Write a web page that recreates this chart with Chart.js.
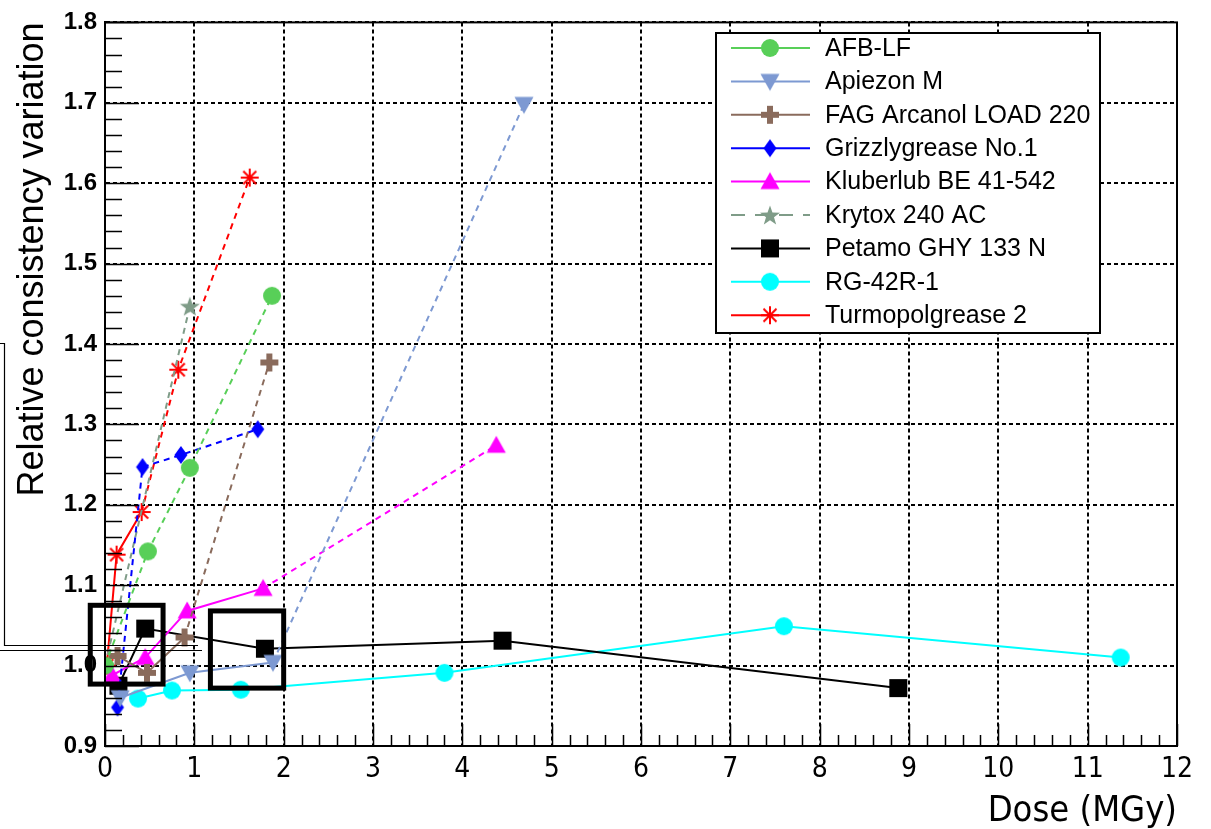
<!DOCTYPE html>
<html><head><meta charset="utf-8">
<script src="https://cdn.jsdelivr.net/npm/chart.js@4/dist/chart.umd.min.js"></script>
<style>html,body{margin:0;padding:0;background:#fff;}#wrap{width:1211px;height:829px;}</style>
</head><body><div id="wrap"><canvas id="c" width="1211" height="829"></canvas></div>
<script>
// ---- data (Dose in MGy, relative consistency variation) ----
const seriesNames = ['AFB-LF','Apiezon M','FAG Arcanol LOAD 220','Grizzlygrease No.1','Kluberlub BE 41-542','Krytox 240 AC','Petamo GHY 133 N','RG-42R-1','Turmopolgrease 2'];
const afbDose = [0, 0.48, 0.95, 1.87];
const afbVal  = [1.0, 1.142, 1.246, 1.460];
const apiezonDose = [0.17, 0.95, 1.88, 4.69];
const apiezonVal  = [0.960, 0.991, 1.004, 1.698];
const fagDose = [0.14, 0.47, 0.89, 1.84];
const fagVal  = [1.012, 0.991, 1.035, 1.377];
const grizzlyDose = [0.14, 0.42, 0.85, 1.71];
const grizzlyVal  = [0.948, 1.247, 1.262, 1.294];
const kluberDose = [0.08, 0.45, 0.92, 1.77, 4.38];
const kluberVal  = [0.988, 1.010, 1.068, 1.096, 1.274];
const krytoxDose = [0, 0.95];
const krytoxVal  = [1.0, 1.447];
const petamoDose = [0.15, 0.45, 1.79, 4.45, 8.88];
const petamoVal  = [0.975, 1.046, 1.021, 1.031, 0.972];
const rgDose = [0.37, 0.75, 1.52, 3.80, 7.60, 11.37];
const rgVal  = [0.959, 0.969, 0.970, 0.991, 1.049, 1.010];
const turmoDose = [0.02, 0.13, 0.41, 0.82, 1.62];
const turmoVal  = [1.0, 1.138, 1.191, 1.368, 1.607];
const xTickLabels = ['0','1','2','3','4','5','6','7','8','9','10','11','12'];

const doses = [afbDose, apiezonDose, fagDose, grizzlyDose, kluberDose, krytoxDose, petamoDose, rgDose, turmoDose];
const vals  = [afbVal, apiezonVal, fagVal, grizzlyVal, kluberVal, krytoxVal, petamoVal, rgVal, turmoVal];

// ---- styles ----
const colors = ['#58cf58','#7d99d2','#8a6b5c','#0000ff','#ff00ff','#7f9c88','#000000','#00ffff','#ff0000'];
const markerTypes = ['circle','triDown','plus','diamond','triUp','star','square','circle','asterisk'];
const dashStart = [0, 2, 2, 0, 3, 0, 99, 99, 2];
const narrow = '"Liberation Sans Narrow", "DejaVu Sans Condensed", "Liberation Sans", Arial';

function makeMarker(type, color){
  const s = 24, c = s/2;
  const cv = document.createElement('canvas'); cv.width = s; cv.height = s;
  const g = cv.getContext('2d');
  g.fillStyle = color; g.strokeStyle = color;
  g.beginPath();
  if (type==='circle'){ g.arc(c,c,9,0,Math.PI*2); g.fill(); }
  else if (type==='triUp'){ g.moveTo(c,c-9.5); g.lineTo(c+9.5,c+7.5); g.lineTo(c-9.5,c+7.5); g.closePath(); g.fill(); }
  else if (type==='triDown'){ g.moveTo(c,c+9.5); g.lineTo(c+9.5,c-7.5); g.lineTo(c-9.5,c-7.5); g.closePath(); g.fill(); }
  else if (type==='square'){ g.fillRect(c-9,c-9,18,18); }
  else if (type==='plus'){ g.fillRect(c-9,c-3,18,6); g.fillRect(c-3,c-9,6,18); }
  else if (type==='diamond'){ g.moveTo(c,c-9); g.lineTo(c+6.5,c); g.lineTo(c,c+9); g.lineTo(c-6.5,c); g.closePath(); g.fill(); }
  else if (type==='star'){
    for (let k=0;k<10;k++){ const r = k%2===0 ? 10.5 : 4.2; const a = -Math.PI/2 + k*Math.PI/5;
      const px = c + r*Math.cos(a), py = c + 1 + r*Math.sin(a); if(k===0) g.moveTo(px,py); else g.lineTo(px,py); }
    g.closePath(); g.fill();
  }
  else if (type==='asterisk'){
    g.lineWidth = 2;
    g.moveTo(c-9,c); g.lineTo(c+9,c); g.moveTo(c,c-9); g.lineTo(c,c+9);
    g.moveTo(c-6.5,c-6.5); g.lineTo(c+6.5,c+6.5); g.moveTo(c+6.5,c-6.5); g.lineTo(c-6.5,c+6.5);
    g.stroke();
  }
  return cv;
}
const markers = markerTypes.map((t,i)=>makeMarker(t, colors[i]));

const datasets = seriesNames.map((name,i)=>({
  label: name,
  data: doses[i].map((d,j)=>({x:d, y:vals[i][j]})),
  borderColor: colors[i],
  backgroundColor: colors[i],
  borderWidth: 2,
  pointStyle: markers[i],
  pointRadius: 9,
  pointHoverRadius: 9,
  tension: 0,
  fill: false,
  segment: { borderDash: ctx => ctx.p0DataIndex >= dashStart[i] ? [6,5] : [] }
}));

const X0 = 0, X1 = 12, Y0 = 0.9, Y1 = 1.8;

const decor = {
  id: 'decor',
  afterDraw(chart){
    const {ctx, chartArea: a, scales: {x, y}} = chart;
    ctx.save();
    ctx.setLineDash([]);
    ctx.strokeStyle = '#000'; ctx.lineWidth = 2;
    ctx.strokeRect(a.left, a.top, a.right-a.left, a.bottom-a.top);
    // inward ticks
    ctx.lineWidth = 1.5;
    ctx.beginPath();
    for (let i=0;i<=45;i++){
      const py = Math.round(y.getPixelForValue(Y0 + i*0.02)) + 0.5;
      const len = i%5===0 ? 34 : 17;
      ctx.moveTo(a.left, py); ctx.lineTo(a.left+len, py);
    }
    for (let i=0;i<=60;i++){
      const px = Math.round(x.getPixelForValue(X0 + i*0.2)) + 0.5;
      const len = i%5===0 ? 22 : 11;
      ctx.moveTo(px, a.bottom); ctx.lineTo(px, a.bottom-len);
    }
    ctx.stroke();
    // highlight boxes
    ctx.lineWidth = 5;
    const box = (x0,x1,y0,y1)=>{
      const l=x.getPixelForValue(x0), r=x.getPixelForValue(x1), t=y.getPixelForValue(y1), b=y.getPixelForValue(y0);
      ctx.strokeRect(l,t,r-l,b-t);
    };
    box(-0.165, 0.65, 0.977, 1.075);
    box(1.18, 2.0, 0.972, 1.068);
    // thin stray lines at left
    ctx.lineWidth = 1.2;
    ctx.beginPath();
    ctx.moveTo(0,343.5); ctx.lineTo(4.5,343.5); ctx.lineTo(4.5,645.5); ctx.lineTo(198,645.5);
    ctx.moveTo(0,650.5); ctx.lineTo(202,650.5);
    ctx.stroke();
    // legend
    const L=716, T=33, R=1100, B=333;
    ctx.fillStyle = '#fff'; ctx.fillRect(L,T,R-L,B-T);
    ctx.lineWidth = 2; ctx.strokeStyle='#000'; ctx.strokeRect(L,T,R-L,B-T);
    ctx.font = '25px "Liberation Sans", Arial, sans-serif';
    ctx.textBaseline = 'middle'; ctx.textAlign = 'left';
    seriesNames.forEach((n,i)=>{
      const cy = 48 + i*33.4;
      ctx.strokeStyle = colors[i]; ctx.lineWidth = 2;
      ctx.setLineDash(i===5 ? [14,10] : []);
      ctx.beginPath(); ctx.moveTo(731, cy); ctx.lineTo(810, cy); ctx.stroke();
      ctx.setLineDash([]);
      const m = markers[i];
      ctx.drawImage(m, 770 - m.width/2, cy - m.height/2);
      ctx.fillStyle = '#000';
      ctx.fillText(n, 825, cy + 1);
    });
    ctx.restore();
  }
};

new Chart(document.getElementById('c'), {
  type: 'line',
  data: { datasets },
  options: {
    responsive: false,
    animation: false,
    devicePixelRatio: 1,
    layout: { padding: { top: 17, right: 34, left: 0, bottom: 0 } },
    plugins: { legend: { display: false }, tooltip: { enabled: false } },
    scales: {
      x: {
        type: 'linear', min: X0, max: X1,
        afterFit: s => { s.height = 83; },
        ticks: { stepSize: 1, padding: 7, color: '#000', maxRotation: 0,
          font: { family: narrow, size: 28 },
          callback: (v) => xTickLabels[Math.round(v)] },
        grid: { color: '#000', lineWidth: 2, drawTicks: false },
        border: { display: true, color: '#000', width: 2, dash: [4,3] },
        title: { display: true, text: 'Dose (MGy)', align: 'end', color: '#000', padding: { top: 0, bottom: -4 },
          font: { family: narrow, size: 36 } }
      },
      y: {
        type: 'linear', min: Y0, max: Y1,
        afterFit: s => { s.width = 105; },
        ticks: { stepSize: 0.1, padding: 8, color: '#000',
          font: { family: '"Liberation Sans", Arial', size: 24, weight: 'bold' },
          callback: (v) => { const k = Math.round((v - Y0) / 0.1); return (Y0 + k*0.1).toFixed(1); } },
        grid: { color: '#000', lineWidth: 2, drawTicks: false },
        border: { display: true, color: '#000', width: 2, dash: [4,3] },
        title: { display: true, text: 'Relative consistency variation', align: 'end', color: '#000', padding: { top: 11, bottom: 0 },
          font: { family: '"Liberation Sans", Arial', size: 36 } }
      }
    }
  },
  plugins: [decor]
});
</script>
</body></html>
